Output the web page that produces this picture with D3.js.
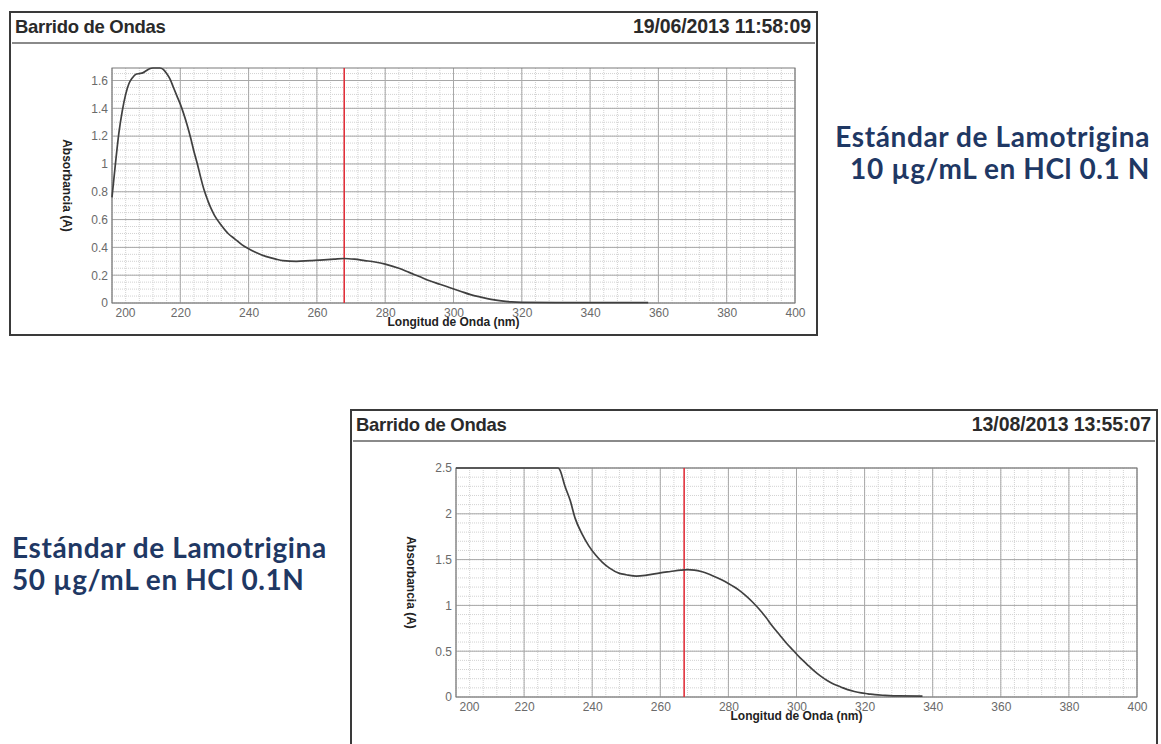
<!DOCTYPE html>
<html>
<head>
<meta charset="utf-8">
<script src="https://cdn.jsdelivr.net/npm/d3@7"></script>
<style>
    body { margin: 0; background: #ffffff; }
    svg { display: block; }
</style>
</head>
<body>
<svg id="chart" width="1161" height="744"></svg>
<script>
// spectrum 1: 10 ug/mL
let wavelength_10 = [200, 201, 202, 203, 204, 205, 206, 207, 208, 209, 210, 211, 212, 213, 214, 215, 216, 217, 218, 219,
    220, 221, 222, 223, 224, 225, 226, 227, 228, 229, 230, 232, 234, 236, 238, 240, 242, 245, 248, 250,
    254, 258, 262, 265, 268, 271, 274, 277, 280, 284, 287, 290, 293, 296, 299, 302, 305, 308, 311, 314,
    317, 320, 330, 340, 350, 357];
let absorbance_10 = [0.76, 1.0, 1.22, 1.38, 1.50, 1.58, 1.62, 1.645, 1.65, 1.655, 1.67, 1.685, 1.69, 1.69, 1.69, 1.68, 1.65, 1.61, 1.55, 1.49,
    1.43, 1.36, 1.28, 1.19, 1.09, 1.0, 0.9, 0.81, 0.74, 0.68, 0.63, 0.56, 0.50, 0.46, 0.42, 0.39, 0.365, 0.335, 0.315, 0.305,
    0.30, 0.305, 0.31, 0.315, 0.32, 0.315, 0.305, 0.295, 0.28, 0.25, 0.22, 0.19, 0.16, 0.135, 0.11, 0.085, 0.06, 0.042, 0.026, 0.015,
    0.008, 0.005, 0.003, 0.003, 0.002, 0.002];

// spectrum 2: 50 ug/mL
let wavelength_50 = [200, 230, 230.5, 232, 233.5, 235, 237, 239, 241, 243, 245, 248, 250, 253, 256, 260, 263, 266, 268, 270,
    272, 275, 278, 280, 283, 285, 287, 289, 291, 293, 295, 297, 299, 301, 303, 305, 307, 309, 311, 313,
    315, 317, 319, 321, 323, 326, 330, 337];
let absorbance_50 = [2.5, 2.5, 2.48, 2.3, 2.15, 1.95, 1.78, 1.65, 1.55, 1.47, 1.41, 1.35, 1.335, 1.32, 1.33, 1.355, 1.37, 1.385, 1.39, 1.385,
    1.37, 1.33, 1.28, 1.24, 1.17, 1.11, 1.04, 0.96, 0.87, 0.77, 0.68, 0.59, 0.51, 0.43, 0.36, 0.29, 0.23, 0.18, 0.14, 0.11,
    0.08, 0.06, 0.045, 0.035, 0.025, 0.018, 0.012, 0.01];

let x_ticks = [200, 220, 240, 260, 280, 300, 320, 340, 360, 380, 400];
let y_ticks_10 = [0, 0.2, 0.4, 0.6, 0.8, 1, 1.2, 1.4, 1.6];
let y_ticks_50 = [0, 0.5, 1, 1.5, 2, 2.5];

let marker_10 = 268;
let marker_50 = 267;

let panel_title = "Barrido de Ondas";
let date_10 = "19/06/2013 11:58:09";
let date_50 = "13/08/2013 13:55:07";
let x_title = "Longitud de Onda (nm)";
let y_title = "Absorbancia (A)";

let label_10 = ["Estándar de Lamotrigina", "10 µg/mL en HCl 0.1 N"];
let label_50 = ["Estándar de Lamotrigina", "50 µg/mL en HCl 0.1N"];

let svg = d3.select("#chart");

function draw_panel(settings) {
    let g = svg.append("g");
    let box = settings.box;

    // outer frame + header
    g.append("rect")
        .attr("x", box.x).attr("y", box.y)
        .attr("width", box.w).attr("height", box.h)
        .attr("fill", "#ffffff")
        .attr("stroke", "#3a3a3a")
        .attr("stroke-width", 2);

    g.append("line")
        .attr("x1", box.x + 2).attr("x2", box.x + box.w - 2)
        .attr("y1", box.y + 31).attr("y2", box.y + 31)
        .attr("stroke", "#8a8a8a")
        .attr("stroke-width", 2);

    g.append("text")
        .attr("x", box.x + 5).attr("y", box.y + 21)
        .attr("font-family", "Liberation Sans, Arial, sans-serif")
        .attr("font-weight", "bold")
        .attr("font-size", "18.5px")
        .attr("letter-spacing", "-0.3px")
        .attr("fill", "#2a2a2a")
        .text(panel_title);

    g.append("text")
        .attr("x", box.x + box.w - 6).attr("y", box.y + 21)
        .attr("text-anchor", "end")
        .attr("font-family", "Liberation Sans, Arial, sans-serif")
        .attr("font-weight", "bold")
        .attr("font-size", "19.5px")
        .attr("letter-spacing", "-0.1px")
        .attr("fill", "#2a2a2a")
        .text(settings.date);

    let x = d3.scaleLinear().domain([200, 400]).range([settings.left, settings.right]);
    let y = d3.scaleLinear().domain([0, settings.y_max]).range([settings.bottom, settings.top]);

    // minor grid
    let x_minor = d3.range(200, 400.01, 4);
    let y_minor = d3.range(0, settings.y_max + 0.0001, settings.y_minor);

    g.append("g")
        .selectAll("line")
        .data(x_minor)
        .enter().append("line")
        .attr("x1", function (d) { return x(d); })
        .attr("x2", function (d) { return x(d); })
        .attr("y1", settings.top).attr("y2", settings.bottom)
        .attr("stroke", "#d2d2d2")
        .attr("stroke-dasharray", "1,1");

    g.append("g")
        .selectAll("line")
        .data(y_minor)
        .enter().append("line")
        .attr("x1", settings.left).attr("x2", settings.right)
        .attr("y1", function (d) { return y(d); })
        .attr("y2", function (d) { return y(d); })
        .attr("stroke", "#d2d2d2")
        .attr("stroke-dasharray", "1,1");

    // major grid
    g.append("g")
        .selectAll("line")
        .data(x_ticks)
        .enter().append("line")
        .attr("x1", function (d) { return x(d); })
        .attr("x2", function (d) { return x(d); })
        .attr("y1", settings.top).attr("y2", settings.bottom)
        .attr("stroke", "#a8a8a8");

    g.append("g")
        .selectAll("line")
        .data(settings.y_ticks)
        .enter().append("line")
        .attr("x1", settings.left).attr("x2", settings.right)
        .attr("y1", function (d) { return y(d); })
        .attr("y2", function (d) { return y(d); })
        .attr("stroke", "#a8a8a8");

    g.append("rect")
        .attr("x", settings.left).attr("y", settings.top)
        .attr("width", settings.right - settings.left)
        .attr("height", settings.bottom - settings.top)
        .attr("fill", "none")
        .attr("stroke", "#7a7a7a");

    // axes, only labels shown
    let x_axis = d3.axisBottom(x).tickValues(x_ticks).tickSize(0).tickPadding(5);
    let x_axis_g = g.append("g")
        .attr("transform", "translate(0," + settings.bottom + ")")
        .call(x_axis);
    x_axis_g.select(".domain").remove();
    x_axis_g.selectAll("text")
        .attr("font-family", "Liberation Sans, Arial, sans-serif")
        .attr("font-size", "12px")
        .attr("fill", "#6a6a6a")
        .attr("text-anchor", function (d) { return d === 200 ? "start" : "middle"; })
        .attr("x", function (d) { return d === 200 ? 3 : 0; });

    let y_axis = d3.axisLeft(y).tickValues(settings.y_ticks).tickSize(0).tickPadding(4)
        .tickFormat(function (d) { return String(d); });
    let y_axis_g = g.append("g")
        .attr("transform", "translate(" + settings.left + ",0)")
        .call(y_axis);
    y_axis_g.select(".domain").remove();
    y_axis_g.selectAll("text")
        .attr("font-family", "Liberation Sans, Arial, sans-serif")
        .attr("font-size", "12px")
        .attr("fill", "#6a6a6a");

    // red marker
    g.append("line")
        .attr("x1", x(settings.marker)).attr("x2", x(settings.marker))
        .attr("y1", settings.top).attr("y2", settings.bottom)
        .attr("stroke", "#e0303a")
        .attr("stroke-width", 1.6);

    // spectrum
    let points = settings.xs.map(function (d, i) { return [d, settings.ys[i]]; });
    let line = d3.line()
        .x(function (d) { return x(d[0]); })
        .y(function (d) { return y(d[1]); })
        .curve(d3.curveMonotoneX);

    g.append("path")
        .datum(points)
        .attr("d", line)
        .attr("fill", "none")
        .attr("stroke", "#404040")
        .attr("stroke-width", 1.7);

    // axis titles
    g.append("text")
        .attr("x", (settings.left + settings.right) / 2)
        .attr("y", settings.bottom + 23)
        .attr("text-anchor", "middle")
        .attr("font-family", "Liberation Sans, Arial, sans-serif")
        .attr("font-weight", "bold")
        .attr("font-size", "12px")
        .attr("fill", "#222")
        .text(x_title);

    g.append("text")
        .attr("transform", "translate(" + (settings.left - 49) + "," + ((settings.top + settings.bottom) / 2) + ") rotate(90)")
        .attr("text-anchor", "middle")
        .attr("font-family", "Liberation Sans, Arial, sans-serif")
        .attr("font-weight", "bold")
        .attr("font-size", "12px")
        .attr("fill", "#222")
        .text(y_title);
}

function draw_label(lines, x, y, anchor) {
    svg.append("text")
        .attr("x", x).attr("y", y)
        .attr("text-anchor", anchor)
        .attr("font-family", "Lato, Noto Sans, sans-serif")
        .attr("font-weight", "bold")
        .attr("font-size", "28px")
        .attr("letter-spacing", "0.6px")
        .attr("fill", "#1f3864")
        .selectAll("tspan")
        .data(lines)
        .enter().append("tspan")
        .attr("x", x)
        .attr("dy", function (d, i) { return i === 0 ? 0 : 32; })
        .text(function (d) { return d; });
}

draw_panel({
    box: {x: 10, y: 12, w: 807, h: 323},
    left: 112, right: 795, top: 68, bottom: 303,
    y_max: 1.69, y_minor: 0.05, y_ticks: y_ticks_10,
    date: date_10, marker: marker_10,
    xs: wavelength_10, ys: absorbance_10
});

draw_panel({
    box: {x: 351, y: 410, w: 806, h: 345},
    left: 456, right: 1137, top: 468, bottom: 697,
    y_max: 2.5, y_minor: 0.1, y_ticks: y_ticks_50,
    date: date_50, marker: marker_50,
    xs: wavelength_50, ys: absorbance_50
});

draw_label(label_10, 1150, 147, "end");
draw_label(label_50, 12, 558, "start");
</script>
</body>
</html>
